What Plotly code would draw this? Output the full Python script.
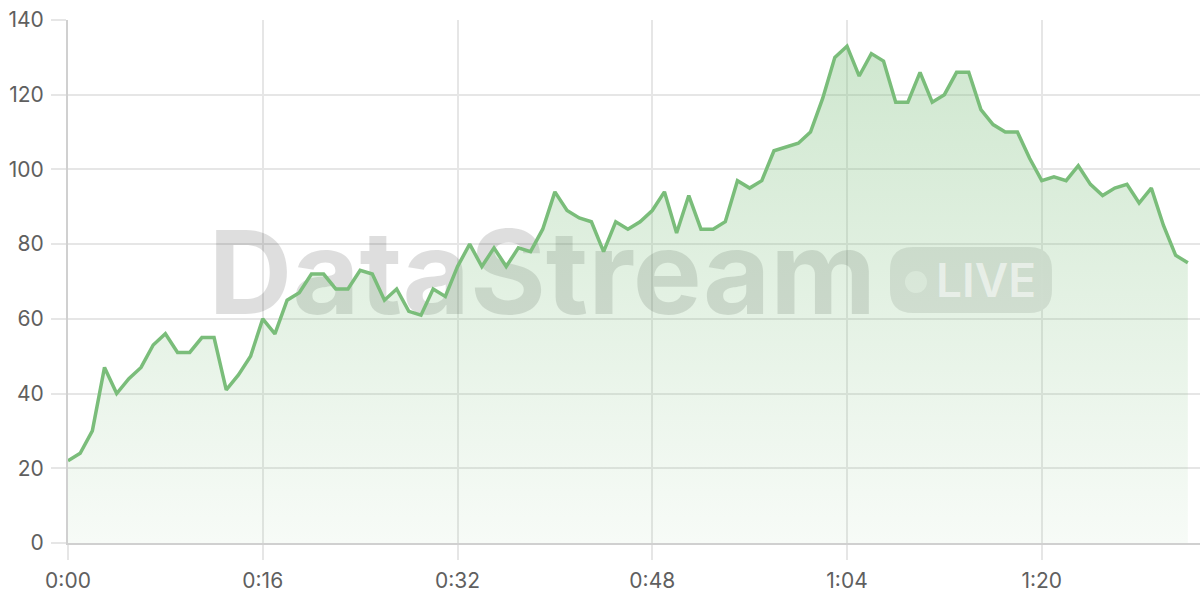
import plotly.graph_objects as go

# ---- data (seconds elapsed, value) ----
seconds = list(range(0, 93))
values = [22, 24, 30, 47, 40, 44, 47, 53, 56, 51,
          51, 55, 55, 41, 45, 50, 60, 56, 65, 67,
          72, 72, 68, 68, 73, 72, 65, 68, 62, 61,
          68, 66, 74, 80, 74, 79, 74, 79, 78, 84,
          94, 89, 87, 86, 78, 86, 84, 86, 89, 94,
          83, 93, 84, 84, 86, 97, 95, 97, 105, 106,
          107, 110, 119, 130, 133, 125, 131, 129, 118, 118,
          126, 118, 120, 126, 126, 116, 112, 110, 110, 103,
          97, 98, 97, 101, 96, 93, 95, 96, 91, 95,
          85, 77, 75]
x_tickvals = [0, 16, 32, 48, 64, 80]
x_ticktext = ["0:00", "0:16", "0:32", "0:48", "1:04", "1:20"]
y_tickvals = [0, 20, 40, 60, 80, 100, 120, 140]

X_MAX = 93
Y_MAX = 140
LINE = "rgb(122,189,122)"
GRID = "#e6e6e6"
FONT = "Inter"

fig = go.Figure()

# watermark text (drawn first so the area and line sit over it)
fig.add_trace(go.Scatter(
    x=[X_MAX * 0.419], y=[Y_MAX * 0.494], mode="text", text=["DataStream"],
    textfont=dict(family="Inter", size=116, weight=700, color="rgba(0,0,0,0.13)"),
    textposition="middle center", hoverinfo="skip", showlegend=False, cliponaxis=False,
))

fig.add_trace(go.Scatter(
    x=seconds, y=values, mode="lines",
    line=dict(color=LINE, width=3.5),
    fill="tozeroy",
    fillgradient=dict(type="vertical", start=0, stop=133,
                      colorscale=[[0, "rgba(122,189,122,0.06)"], [1, "rgba(122,189,122,0.36)"]]),
    hoverinfo="x+y", showlegend=False,
))


def rounded_rect(w, h, r):
    x0, x1, y0, y1 = -w / 2, w / 2, -h / 2, h / 2
    return (f"M {x0 + r},{y0} L {x1 - r},{y0} Q {x1},{y0} {x1},{y0 + r} "
            f"L {x1},{y1 - r} Q {x1},{y1} {x1 - r},{y1} L {x0 + r},{y1} "
            f"Q {x0},{y1} {x0},{y1 - r} L {x0},{y0 + r} Q {x0},{y0} {x0 + r},{y0} Z")


fig.add_shape(type="path", path=rounded_rect(162, 66, 23),
              xref="paper", yref="paper", xsizemode="pixel", ysizemode="pixel",
              xanchor=0.7977, yanchor=0.5029,
              fillcolor="rgba(0,0,0,0.10)", line=dict(width=0), layer="between")
fig.add_shape(type="circle", xref="paper", yref="paper", xsizemode="pixel", ysizemode="pixel",
              xanchor=0.7491, yanchor=0.499, x0=-11, x1=11, y0=-11, y1=11,
              fillcolor="rgba(255,255,255,0.55)", line=dict(width=0), layer="between")
fig.add_annotation(text="LIVE", xref="paper", yref="paper", x=0.811, y=0.503,
                   showarrow=False, xanchor="center", yanchor="middle",
                   font=dict(family="Inter", size=46, weight=600, color="rgba(255,255,255,0.55)"))

fig.update_layout(
    width=1200, height=600,
    margin=dict(l=68, r=0, t=20, b=57),
    paper_bgcolor="white", plot_bgcolor="white",
    font=dict(family=FONT, size=21, color="#5f5f5f"),
    xaxis=dict(range=[0, X_MAX], tickvals=x_tickvals, ticktext=x_ticktext,
               showgrid=True, gridcolor=GRID, gridwidth=1.5,
               showline=True, linecolor="#d0d0d0", linewidth=2,
               ticks="outside", ticklen=15, tickcolor=GRID, tickwidth=1.5,
               ticklabelstandoff=3,
               zeroline=False, fixedrange=True, automargin=False),
    yaxis=dict(range=[0, Y_MAX], tickvals=y_tickvals,
               showgrid=True, gridcolor=GRID, gridwidth=1.5,
               showline=True, linecolor="#d0d0d0", linewidth=2,
               ticks="outside", ticklen=15, tickcolor=GRID, tickwidth=1.5,
               ticklabelstandoff=3,
               zeroline=False, fixedrange=True, automargin=False),
)

fig.write_html("out.html", config={"displayModeBar": False},
               post_script="document.body.style.margin='0px';")
